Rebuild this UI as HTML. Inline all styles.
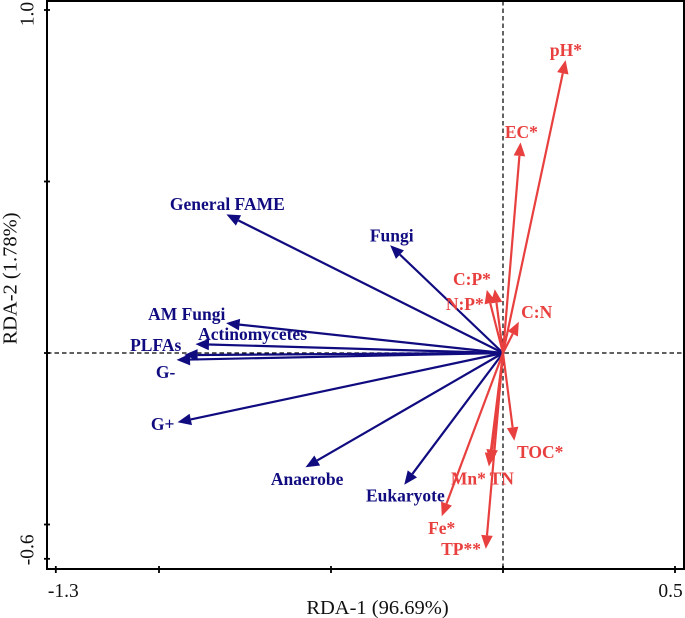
<!DOCTYPE html>
<html>
<head>
<meta charset="utf-8">
<title>RDA biplot</title>
<style>
html,body{margin:0;padding:0;background:#fff;}
svg{display:block;}
text{font-family:"Liberation Serif",serif;}
.lab{font-weight:bold;font-size:17.5px;}
.tick{font-size:19.5px;fill:#111;}
.title{font-size:20.5px;fill:#111;}
</style>
</head>
<body>
<svg id="chart" width="685" height="618" viewBox="0 0 685 618" xmlns="http://www.w3.org/2000/svg">
  <g id="dash"></g>
  <g id="bio"></g>
  <g id="env"></g>
  <g id="axes"></g>
</svg>
<script>
// Community variables
const bioNames = ["General FAME","Fungi","AM Fungi","Actinomycetes","PLFAs","G-","G+","Anaerobe","Eukaryote"];
const bioRDA1 = [-0.804,-0.328,-0.805,-0.894,-0.927,-0.949,-0.946,-0.574,-0.287];
const bioRDA2 = [0.404,0.314,0.087,0.026,-0.006,-0.020,-0.202,-0.333,-0.384];
// Environmental variables
const envNames = ["pH*","EC*","C:P*","N:P*","C:N","TOC*","TN","Mn*","Fe*","TP**"];
const envRDA1 = [0.182,0.051,-0.024,-0.047,0.046,0.033,-0.036,-0.041,-0.178,-0.050];
const envRDA2 = [0.854,0.614,0.186,0.184,0.091,-0.256,-0.321,-0.331,-0.476,-0.571];
// Axis ticks
const xTicks = [-1.3,-1.0,-0.5,0,0.5];
const yTicks = [1.0,0.5,0,-0.5,-0.6];
const xTickLabels = ["-1.3","","","","0.5"];
const yTickLabels = ["1.0","","","","-0.6"];

const BLUE = "#100c80", RED = "#e8403f";
const NS = "http://www.w3.org/2000/svg";
const L = 47, R = 684, T = 1, B = 569;
function sx(v){ return 503 + v * 344; }
function sy(v){ return 353 - v * 343; }

// label placement relative to each arrow tip (px)
const labelPlace = {
  "General FAME":[-56.5,-4.5],"Fungi":[-20.3,-4],"AM Fungi":[-78,-3],"Actinomycetes":[2.7,-4],
  "PLFAs":[-54,-4],"G-":[-20.7,18],"G+":[-26.7,7.7],"Anaerobe":[-34.7,17.7],"Eukaryote":[-38.3,17],
  "pH*":[-15.7,-4],"EC*":[-15.7,-4.3],"C:P*":[-41.7,-4.3],"N:P*":[-41,20],"C:N":[2.3,-3.7],
  "TOC*":[2.7,17.3],"TN":[-1,21.5],"Mn*":[-38,17.8],"Fe*":[-13.7,17.7],"TP**":[-44.7,6]
};

function mk(tag, attrs, parent){
  const e = document.createElementNS(NS, tag);
  for (const k in attrs) e.setAttribute(k, attrs[k]);
  parent.appendChild(e);
  return e;
}
function slug(s){
  return s.toLowerCase().replace(/\*/g,"").replace(/\+/g,"-plus").replace(/-$/,"-minus").replace(/[^a-z0-9-]+/g,"-");
}
function drawArrow(group, name, vx, vy, color){
  const x0 = sx(0), y0 = sy(0), x1 = sx(vx), y1 = sy(vy);
  const a = Math.atan2(y1 - y0, x1 - x0);
  const len = 13.5, hw = 5.8;
  const bx = x1 - len * Math.cos(a), by = y1 - len * Math.sin(a);
  const px = -Math.sin(a) * hw, py = Math.cos(a) * hw;
  const g = mk("g", {}, group);
  
  
  mk("line", {x1:x0, y1:y0, x2:bx, y2:by, stroke:color, "stroke-width":2.2}, g);
  mk("polygon", {points:x1+","+y1+" "+(bx+px)+","+(by+py)+" "+(bx-px)+","+(by-py), fill:color}, g);
  const off = labelPlace[name];
  const t = mk("text", {x:x1+off[0], y:y1+off[1], fill:color, "class":"lab"}, g);
  
  
  t.textContent = name;
}

const dash = document.getElementById("dash");
mk("line",{x1:L,y1:sy(0),x2:R,y2:sy(0),stroke:"#000","stroke-width":1.3,"stroke-dasharray":"4.5 3"},dash);
mk("line",{x1:sx(0),y1:T,x2:sx(0),y2:B,stroke:"#222","stroke-width":1.4,"stroke-dasharray":"4.5 3"},dash);

const bio = document.getElementById("bio");
bioNames.forEach(function(n,i){ drawArrow(bio, n, bioRDA1[i], bioRDA2[i], BLUE); });
const env = document.getElementById("env");
envNames.forEach(function(n,i){ drawArrow(env, n, envRDA1[i], envRDA2[i], RED); });

const axes = document.getElementById("axes");
const frame = mk("rect",{x:L,y:T,width:R-L,height:B-T,fill:"none",stroke:"#000","stroke-width":2},axes);



xTicks.forEach(function(v,i){
  const tk = mk("line",{x1:sx(v),y1:B-3,x2:sx(v),y2:B+4,stroke:"#000","stroke-width":1.8},axes);
  
  
  if (xTickLabels[i]) {
    const t = mk("text",{x:sx(v)+(i===0?7.5:-4.5),y:597,"text-anchor":"middle","class":"tick"},axes);
    
    
    t.textContent = xTickLabels[i];
  }
});
yTicks.forEach(function(v,i){
  const tk = mk("line",{x1:L-3,y1:sy(v),x2:L+3,y2:sy(v),stroke:"#000","stroke-width":1.8},axes);
  
  
  if (yTickLabels[i]) {
    const cy = i===0 ? sy(v)+4 : sy(v)-9;
    const t = mk("text",{x:0,y:0,transform:"translate(33.5,"+cy+") rotate(-90)","text-anchor":"middle","class":"tick"},axes);
    
    
    t.textContent = yTickLabels[i];
  }
});
const xt = mk("text",{x:377.5,y:614,"text-anchor":"middle","class":"title"},axes);


xt.textContent = "RDA-1 (96.69%)";
const yt = mk("text",{x:0,y:0,transform:"translate(16.5,278.5) rotate(-90)","text-anchor":"middle","class":"title"},axes);


yt.textContent = "RDA-2 (1.78%)";
</script>
</body>
</html>
